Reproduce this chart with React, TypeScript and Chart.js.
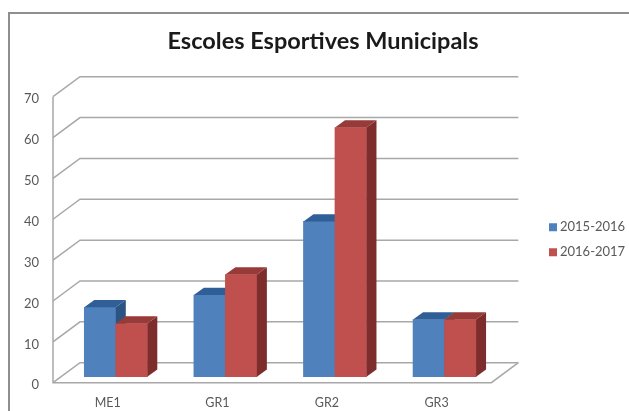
import React, { useEffect, useRef } from "react";
import { Chart, registerables } from "chart.js";

Chart.register(...registerables);

const categories = ["ME1", "GR1", "GR2", "GR3"];
const series2015 = [17, 20, 38, 14];
const series2016 = [13, 25, 61, 14];
const seriesNames = ["2015-2016", "2016-2017"];
const yTicks = [0, 10, 20, 30, 40, 50, 60, 70];
const titleText = "Escoles Esportives Municipals";

const FRONT = ["#4f81bd", "#c0504d"];
const TOP = ["#2f5f96", "#983a37"];
const SIDE = ["#2a5583", "#7d2d2b"];
const DEPTH_X = 10;
const DEPTH_Y = 7.3;
const GRID = "#a8a8a8";

const poly = (ctx: CanvasRenderingContext2D, pts: number[][], fill: string) => {
  ctx.beginPath();
  pts.forEach(([x, y], i) => (i ? ctx.lineTo(x, y) : ctx.moveTo(x, y)));
  ctx.closePath();
  ctx.fillStyle = fill;
  ctx.fill();
};

const wallsAndBars = {
  id: "wallsAndBars",
  afterLayout(chart: any) {
    const legend = chart.legend;
    const dx = 540.5 - legend.left;
    legend.left += dx;
    legend.right += dx;
    const dy = 239.7 - (legend.top + legend.bottom) / 2;
    legend.top += dy;
    legend.bottom += dy;
    const title = chart.titleBlock;
    const tx = 323 - (title.left + title.right) / 2;
    title.left += tx;
    title.right += tx;
  },
  beforeDraw(chart: any) {
    const { ctx, width, height } = chart;
    ctx.save();
    ctx.fillStyle = "#ffffff";
    ctx.fillRect(0, 0, width, height);
    ctx.strokeStyle = "#8f8f8f";
    ctx.lineWidth = 2;
    ctx.beginPath();
    ctx.moveTo(9, height);
    ctx.lineTo(9, 13);
    ctx.lineTo(width, 13);
    ctx.stroke();
    ctx.restore();
  },
  beforeDatasetsDraw(chart: any) {
    const { ctx, scales } = chart;
    const y = scales.y;
    const xFront = scales.x.left - 8;
    const xEnd = scales.x.right - 8;
    const dFront = 6;
    const dBack = -14;
    const xBack = xFront + 27;
    ctx.save();
    ctx.strokeStyle = GRID;
    ctx.lineWidth = 1.5;
    y.ticks.forEach((t: any) => {
      const py = y.getPixelForValue(t.value);
      ctx.beginPath();
      ctx.moveTo(xFront, py + dFront);
      ctx.lineTo(xBack, py + dBack);
      ctx.lineTo(xEnd + 27, py + dBack);
      ctx.stroke();
    });
    const y0 = y.getPixelForValue(0);
    const yMax = y.getPixelForValue(70);
    ctx.beginPath();
    ctx.moveTo(xFront, yMax + dFront);
    ctx.lineTo(xFront, y0 + dFront);
    ctx.lineTo(xEnd, y0 + dFront);
    ctx.lineTo(xEnd + 27, y0 + dBack);
    ctx.stroke();
    ctx.restore();
  },
  beforeDatasetDraw() {
    return false;
  },
  afterDatasetsDraw(chart: any) {
    const { ctx } = chart;
    [0, 1].forEach((i) => {
      const meta = chart.getDatasetMeta(i);
      meta.controller.draw();
      ctx.save();
      meta.data.forEach((bar: any) => {
        const { x, y, base, width } = bar.getProps(["x", "y", "base", "width"], true);
        const l = x - width / 2;
        const r = x + width / 2;
        poly(ctx, [[r, y], [r + DEPTH_X, y - DEPTH_Y], [r + DEPTH_X, base - DEPTH_Y], [r, base]], SIDE[i]);
        poly(ctx, [[l, y], [l + DEPTH_X, y - DEPTH_Y], [r + DEPTH_X, y - DEPTH_Y], [r, y]], TOP[i]);
      });
      ctx.restore();
    });
  },
};

export default function App() {
  const ref = useRef<HTMLCanvasElement>(null);
  useEffect(() => {
    const chart = new Chart(ref.current!, {
      type: "bar",
      data: {
        labels: categories,
        datasets: [
          { label: seriesNames[0], data: series2015, backgroundColor: FRONT[0], barThickness: 31.5 },
          { label: seriesNames[1], data: series2016, backgroundColor: FRONT[1], barThickness: 31.5 },
        ],
      },
      plugins: [wallsAndBars],
      options: {
        responsive: false,
        animation: false,
        devicePixelRatio: 1,
        layout: { autoPadding: false, padding: { left: 17, right: 35, top: 0, bottom: 0 } },
        datasets: { bar: { categoryPercentage: 1, barPercentage: 1 } },
        scales: {
          x: {
            grid: { display: false, drawTicks: false },
            border: { display: false },
            ticks: {
              font: { family: "Lato", size: 12.5 },
              color: "#595959",
              labelOffset: -8,
              padding: 19,
              maxRotation: 0,
            },
            afterFit(s: any) {
              s.height = 34.3;
            },
          },
          y: {
            min: 0,
            max: 70,
            afterBuildTicks(s: any) {
              s.ticks = yTicks.map((value) => ({ value }));
            },
            grid: { display: false, drawTicks: false },
            border: { display: false },
            ticks: {
              font: { family: "Lato", size: 13 },
              color: "#595959",
              labelOffset: 8.5,
              padding: 22,
            },
            afterFit(s: any) {
              s.width = 44;
            },
          },
        },
        plugins: {
          tooltip: { enabled: false },
          title: {
            display: true,
            text: titleText,
            color: "#1a1a1a",
            font: { family: "Lato", size: 23.5, weight: "bold" },
            padding: { top: 27, bottom: 35.5 },
          },
          legend: {
            display: true,
            position: "right",
            labels: {
              usePointStyle: true,
              pointStyle: "rect",
              boxWidth: 1,
              boxHeight: 8,
              padding: 12,
              color: "#595959",
              font: { family: "Lato", size: 13 },
            },
          },
        },
      },
    } as any);
    return () => chart.destroy();
  }, []);
  return (
    <canvas
      ref={ref}
      width={629}
      height={411}
      style={{ position: "fixed", left: 0, top: 0, width: 629, height: 411, display: "block", filter: "blur(0.4px)" }}
    />
  );
}
